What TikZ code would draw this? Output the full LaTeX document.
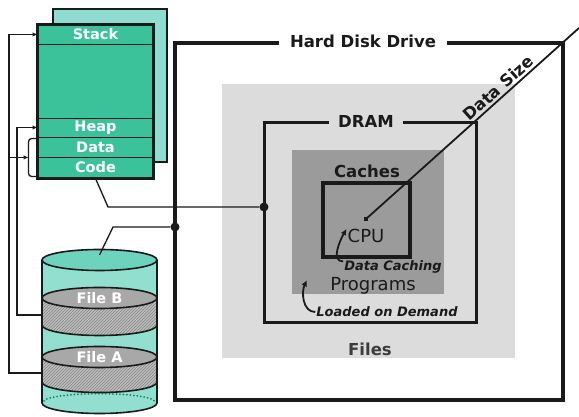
\documentclass[tikz,border=0pt]{standalone}
\usepackage{fontspec}
\setmainfont{DejaVu Sans}
\usetikzlibrary{arrows.meta,positioning,patterns,shapes.geometric,calc}
\definecolor{ink}{HTML}{1A1A1A}
\definecolor{memgreen}{HTML}{3CC29A}
\definecolor{memback}{HTML}{8FDCD0}
\definecolor{cylside}{HTML}{93DFCF}
\definecolor{cyltop}{HTML}{6ED3BD}
\definecolor{diskgray}{HTML}{A8A8A8}
\definecolor{bandgray}{HTML}{BDBDBD}
\definecolor{hatchgray}{HTML}{858585}
\definecolor{filesgray}{HTML}{DCDCDC}
\definecolor{progsgray}{HTML}{9B9B9B}
\definecolor{dotgreen}{HTML}{1E7F5E}
\tikzset{
  level/.style={draw=ink,line width=3.4pt,inner sep=0pt},
  region/.style={inner sep=0pt},
  sheet/.style={draw=ink,fill=memback,line width=2.5pt,inner sep=0pt,
                minimum width=114pt,minimum height=153pt},
  memrow/.style={draw=ink,fill=memgreen,line width=0.9pt,inner sep=0pt,
                 minimum width=115pt,minimum height=19pt,text=white,
                 font=\fontsize{14.5}{16}\selectfont\bfseries},
  disktop/.style={ellipse,draw=ink,line width=1.6pt,inner sep=0pt,
                  minimum width=115pt,minimum height=21pt,
                  text=white,font=\fontsize{14.5}{16}\selectfont\bfseries},
  cylline/.style={draw=ink,line width=1.6pt},
  title/.style={text=ink,inner sep=1pt,
                font=\fontsize{16.5}{18}\selectfont\bfseries},
  plainlabel/.style={text=ink,inner sep=1pt,
                     font=\fontsize{18}{20}\selectfont},
  notelabel/.style={text=ink,inner sep=1pt,
                    font=\fontsize{13}{15}\selectfont\bfseries\itshape},
  link/.style={draw=ink,line width=1.3pt},
  linkarr/.style={link,-{Latex[length=5pt,width=4.5pt]}},
  curvearr/.style={draw=ink,line width=1.8pt,-{Latex[length=6pt,width=6pt]}},
  sizeline/.style={draw=ink,line width=1.8pt},
  joint/.style={circle,fill=ink,inner sep=0pt,minimum size=9pt}
}
\begin{document}
\begin{tikzpicture}[x=1pt,y=1pt]
    \path[use as bounding box,fill=white] (0,0) rectangle (579,417);

    % storage levels, from the drive inwards
    \node[level,minimum width=388pt,minimum height=357pt] (hdd) at (369,195.5) {};
    \node[region,fill=filesgray,minimum width=293pt,minimum height=274pt]
      (files) at (368.5,196) {};
    \node[level,line width=3pt,minimum width=212pt,minimum height=200pt]
      (dram) at (370,194) {};
    \node[region,fill=progsgray,minimum width=152pt,minimum height=144pt]
      (progs) at (368,195) {};
    \node[level,minimum width=87pt,minimum height=74pt] (cpu) at (366.5,197) {};

    \node[title,fill=white,inner xsep=11pt] (hddtitle) at ([xshift=-6pt]hdd.north)
      {Hard Disk Drive};
    \node[title,fill=filesgray,inner xsep=9pt] (dramtitle) at ([xshift=-4pt]dram.north)
      {DRAM};
    \node[title,text=ink!85] (filestitle) at (370,68) {Files};
    \node[title] (cachestitle) at (367,246) {Caches};
    \node[plainlabel] (cpulabel) at (366,181) {CPU};
    \node[plainlabel] (progslabel) at (373,131) {Programs};
    \node[notelabel] (caching) at (393,150) {Data Caching};
    \node[notelabel] (demand) at (387,105) {Loaded on Demand};

    \draw[curvearr] ([yshift=-2pt]caching.north west)
      to[out=180,in=240] ([yshift=-1pt]cpulabel.north west);
    \draw[curvearr] (demand.west)
      to[out=180,in=245] ([shift={(15,14)}]progs.south west);

    % data size axis
    \node[fill=ink,minimum size=4.5pt,inner sep=0pt] (cpudot) at (366,198) {};
    \coordinate (sizeend) at (579,389);
    \draw[sizeline] (cpudot.center) -- node[title,pos=0.65,sloped,above=1pt]
      (sizelabel) {Data Size} (sizeend);

    % process image
    \node[sheet] (sheet) at (110,331.5) {};
    \node[memrow] (stack) at (95.5,382.5) {Stack};
    \node[memrow,minimum height=74pt] (heapgap) at (95.5,336) {};
    \node[memrow] (heap) at (95.5,289.5) {Heap};
    \node[memrow,minimum height=20pt] (data) at (95.5,270) {Data};
    \node[memrow,minimum height=21pt] (code) at (95.5,249.5) {Code};
    \draw[ink,line width=2.8pt] (stack.north west) rectangle (code.south east);

    % disk cylinder
    \fill[cylside] (42,157) -- (42,14)
      arc[start angle=180,end angle=360,x radius=57.5pt,y radius=10.5pt]
      -- (157,157) -- cycle;
    \foreach \ftop/\fbot in {119/92,60/35}{
      \fill[bandgray] (42,\ftop) -- (42,\fbot)
        arc[start angle=180,end angle=360,x radius=57.5pt,y radius=10.5pt]
        -- (157,\ftop) -- cycle;
      \fill[pattern=north east lines,pattern color=hatchgray] (42,\ftop) -- (42,\fbot)
        arc[start angle=180,end angle=360,x radius=57.5pt,y radius=10.5pt]
        -- (157,\ftop) -- cycle;
      \draw[cylline] (42,\fbot)
        arc[start angle=180,end angle=360,x radius=57.5pt,y radius=10.5pt];
    }
    \node[disktop,fill=diskgray] (fileB) at (99.5,119) {File B};
    \node[disktop,fill=diskgray] (fileA) at (99.5,60) {File A};
    \draw[dotgreen,line width=2pt,dash pattern=on 0pt off 3.5pt,line cap=round]
      (44,16) arc[start angle=175,end angle=5,x radius=55.5pt,y radius=8pt];
    \draw[cylline] (42,157) -- (42,14)
      arc[start angle=180,end angle=360,x radius=57.5pt,y radius=10.5pt]
      -- (157,157);
    \node[disktop,fill=cyltop] (cyltop) at (99.5,157) {};

    % connectors on the left
    \coordinate (outer) at (9,0);
    \coordinate (inner) at (17,0);
    \coordinate (bandA) at (42,44);
    \coordinate (bandB) at (42,102);
    \draw[linkarr] (bandA) -| (outer |- stack.west) -- (stack.west);
    \draw[linkarr] (outer |- data.south west) -- ([xshift=-9pt]data.south west);
    \draw[link,rounded corners=3pt] ([yshift=-2pt]data.north west)
      -| ([xshift=-9pt]code.west) |- ([yshift=2pt]code.south west);
    \draw[linkarr] (bandB) -| (inner |- heap.west) -- (heap.west);

    % links into the hierarchy
    \node[joint] (hddjoin) at (175,190) {};
    \node[joint] (dramjoin) at (264,210) {};
    \draw[link] ([yshift=5pt]cyltop.center) -- (113,190) -- (hddjoin);
    \draw[link] (code.south) -- (108,210) -- (dramjoin);
\end{tikzpicture}
\end{document}
